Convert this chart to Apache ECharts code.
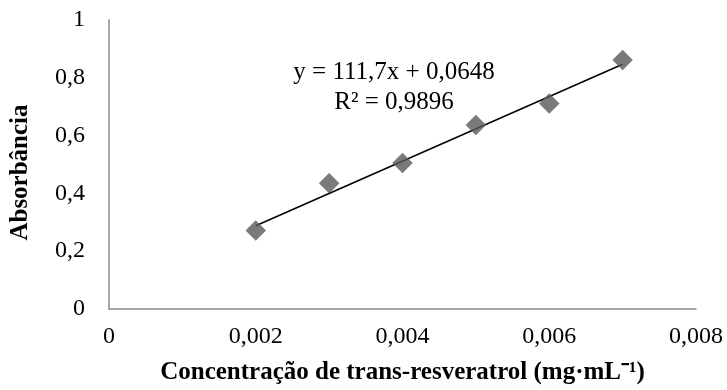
<!DOCTYPE html>
<html>
<head>
<meta charset="utf-8">
<script src="https://cdn.jsdelivr.net/npm/echarts@6/dist/echarts.min.js"></script>
<style>html,body{margin:0;padding:0;background:#fff}#c{width:727px;height:390px}</style>
</head>
<body>
<div id="c"></div>
<script>
var concentrations = [0.002, 0.003, 0.004, 0.005, 0.006, 0.007];
var absorbances = [0.272, 0.435, 0.505, 0.637, 0.711, 0.862];
var slope = 111.7;
var intercept = 0.0648;
var trendRange = [0.002, 0.007];
var xTicks = [0, 0.002, 0.004, 0.006, 0.008];
var yTicks = [0, 0.2, 0.4, 0.6, 0.8, 1];
var equationText = 'y = 111,7x + 0,0648';
var r2Text = 'R² = 0,9896';
var xTitle = 'Concentração de trans-resveratrol (mg·mL⁻¹)';
var yTitle = 'Absorbância';

var font = '"Liberation Serif","Times New Roman",serif';
function fmt(v){ return String(+v.toFixed(4)).replace('.', ','); }
var points = concentrations.map(function(x, i){ return [x, absorbances[i]]; });
var trend = trendRange.map(function(x){ return [x, slope * x + intercept]; });

var chart = echarts.init(document.getElementById('c'));
chart.setOption({
  animation: false,
  grid: {left: 108, right: 31, top: 20, bottom: 79},
  xAxis: {
    type: 'value', min: xTicks[0], max: xTicks[xTicks.length-1], interval: 0.002,
    name: xTitle, nameLocation: 'middle', nameGap: 51,
    nameTextStyle: {fontFamily: font, fontWeight: 'bold', fontSize: 25, color: '#000'},
    axisLine: {show: true, lineStyle: {color: '#8c8c8c', width: 1.5}},
    axisTick: {show: false}, splitLine: {show: false},
    axisLabel: {fontFamily: font, fontSize: 24, color: '#000', margin: 16, formatter: fmt}
  },
  yAxis: {
    type: 'value', min: yTicks[0], max: yTicks[yTicks.length-1], interval: 0.2,
    name: yTitle, nameLocation: 'middle', nameGap: 76,
    nameTextStyle: {fontFamily: font, fontWeight: 'bold', fontSize: 25, color: '#000', padding: [0, 16, 0, 0]},
    axisLine: {show: true, lineStyle: {color: '#8c8c8c', width: 1.5}},
    axisTick: {show: false}, splitLine: {show: false},
    axisLabel: {fontFamily: font, fontSize: 24, color: '#000', margin: 24, formatter: fmt}
  },
  series: [
    {type: 'line', data: trend, symbol: 'none', lineStyle: {color: '#000', width: 1.5}, z: 2, silent: true},
    {type: 'scatter', data: points, symbol: 'rect', symbolSize: 14.5, symbolRotate: 45,
     itemStyle: {color: '#595959'}, z: 3}
  ],
  graphic: [
    {type: 'text', x: 394, y: 72, style: {text: equationText, font: '25px ' + font, fill: '#000', textAlign: 'center', textVerticalAlign: 'middle'}},
    {type: 'text', x: 394, y: 102, style: {text: r2Text, font: '25px ' + font, fill: '#000', textAlign: 'center', textVerticalAlign: 'middle'}}
  ]
});
</script>
</body>
</html>
